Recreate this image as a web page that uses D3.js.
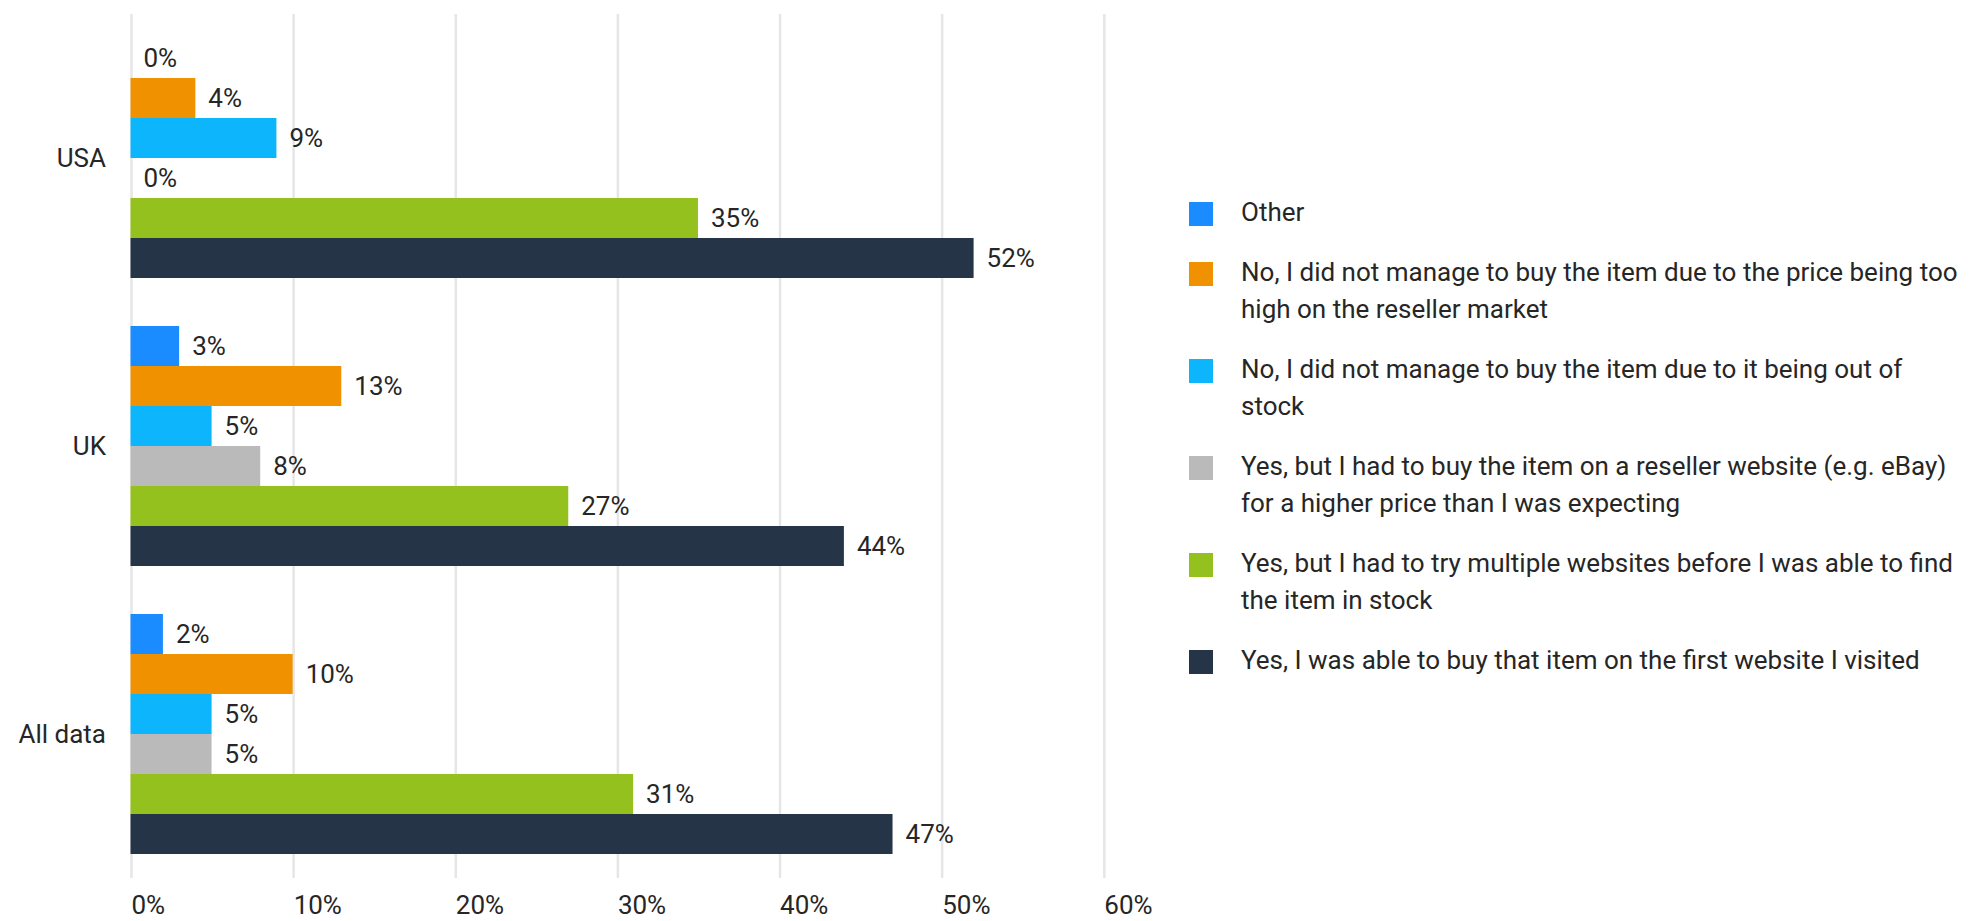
<!DOCTYPE html>
<html>
<head>
<meta charset="utf-8">
<script src="https://cdn.jsdelivr.net/npm/d3@7"></script>
<style>
  html, body { margin: 0; padding: 0; background: #ffffff; }
  svg { display: block; font-family: Roboto, "Noto Sans", sans-serif; }
</style>
</head>
<body>
<svg id="chart" width="1979" height="921"></svg>
<script>
// Survey answers by market (percent of respondents)
const categories = ["USA", "UK", "All data"];
const seriesNames = [
  "Other",
  "No, I did not manage to buy the item due to the price being too high on the reseller market",
  "No, I did not manage to buy the item due to it being out of stock",
  "Yes, but I had to buy the item on a reseller website (e.g. eBay) for a higher price than I was expecting",
  "Yes, but I had to try multiple websites before I was able to find the item in stock",
  "Yes, I was able to buy that item on the first website I visited"
];
const legendLines = [
  ["Other"],
  ["No, I did not manage to buy the item due to the price being too", "high on the reseller market"],
  ["No, I did not manage to buy the item due to it being out of", "stock"],
  ["Yes, but I had to buy the item on a reseller website (e.g. eBay)", "for a higher price than I was expecting"],
  ["Yes, but I had to try multiple websites before I was able to find", "the item in stock"],
  ["Yes, I was able to buy that item on the first website I visited"]
];
const otherValues       = [0, 3, 2];
const noPriceValues     = [4, 13, 10];
const noStockValues     = [9, 5, 5];
const yesResellerValues = [0, 8, 5];
const yesMultipleValues = [35, 27, 31];
const yesFirstValues    = [52, 44, 47];
const xTickValues = [0, 10, 20, 30, 40, 50, 60];
const colors = ["#1a8cff", "#f09100", "#0db6fc", "#bababa", "#95c11f", "#253446"];

const seriesValues = [otherValues, noPriceValues, noStockValues,
                      yesResellerValues, yesMultipleValues, yesFirstValues];

const svg = d3.select("#chart");
const textColor = "#262626";
const fontSize = 26;

const x = d3.scaleLinear().domain([0, 60]).range([130.5, 1103.3]);
const y = d3.scaleBand().domain(categories).range([14, 878])
  .paddingInner(1 / 6).paddingOuter(1 / 12);
const ySub = d3.scaleBand().domain(d3.range(seriesNames.length)).range([0, y.bandwidth()]);

// vertical gridlines
svg.append("g").selectAll("line").data(xTickValues).join("line")
  .attr("x1", d => x(d) + 1).attr("x2", d => x(d) + 1)
  .attr("y1", 14).attr("y2", 878)
  .attr("stroke", "#e6e6e6").attr("stroke-width", 2.5);

// x tick labels
svg.append("g").selectAll("text").data(xTickValues).join("text")
  .attr("x", d => Math.max(x(d) + 1, x(d) - 14))
  .attr("y", 914)
  .attr("font-size", fontSize).attr("fill", textColor)
  .text(d => d + "%");

// category labels
svg.append("g").selectAll("text").data(categories).join("text")
  .attr("x", 106)
  .attr("y", d => y(d) + y.bandwidth() / 2)
  .attr("text-anchor", "end")
  .attr("dominant-baseline", "central")
  .attr("font-size", fontSize).attr("fill", textColor)
  .text(d => d);

// bars and value labels
const rows = [];
categories.forEach((c, ci) => {
  seriesValues.forEach((vals, si) => rows.push({ cat: c, s: si, v: vals[ci] }));
});

const barsG = svg.append("g");
barsG.selectAll("rect").data(rows.filter(d => d.v > 0)).join("rect")
  .attr("x", x(0))
  .attr("y", d => y(d.cat) + ySub(d.s))
  .attr("width", d => x(d.v) - x(0))
  .attr("height", ySub.bandwidth())
  .attr("fill", d => colors[d.s]);

barsG.selectAll("text").data(rows).join("text")
  .attr("x", d => x(d.v) + 13)
  .attr("y", d => y(d.cat) + ySub(d.s) + ySub.bandwidth() / 2)
  .attr("dominant-baseline", "central")
  .attr("font-size", fontSize).attr("fill", textColor)
  .text(d => d.v + "%");

// legend
const legend = svg.append("g");
let baseline = 221;
legendLines.forEach((lines, i) => {
  legend.append("rect")
    .attr("x", 1189).attr("y", baseline - 19)
    .attr("width", 24).attr("height", 24)
    .attr("fill", colors[i]);
  const t = legend.append("text")
    .attr("x", 1241).attr("y", baseline)
    .attr("font-size", fontSize).attr("fill", textColor);
  lines.forEach((ln, li) => {
    t.append("tspan").attr("x", 1241).attr("y", baseline + li * 37).text(ln);
  });
  baseline += lines.length * 37 + 23;
});
</script>
</body>
</html>
